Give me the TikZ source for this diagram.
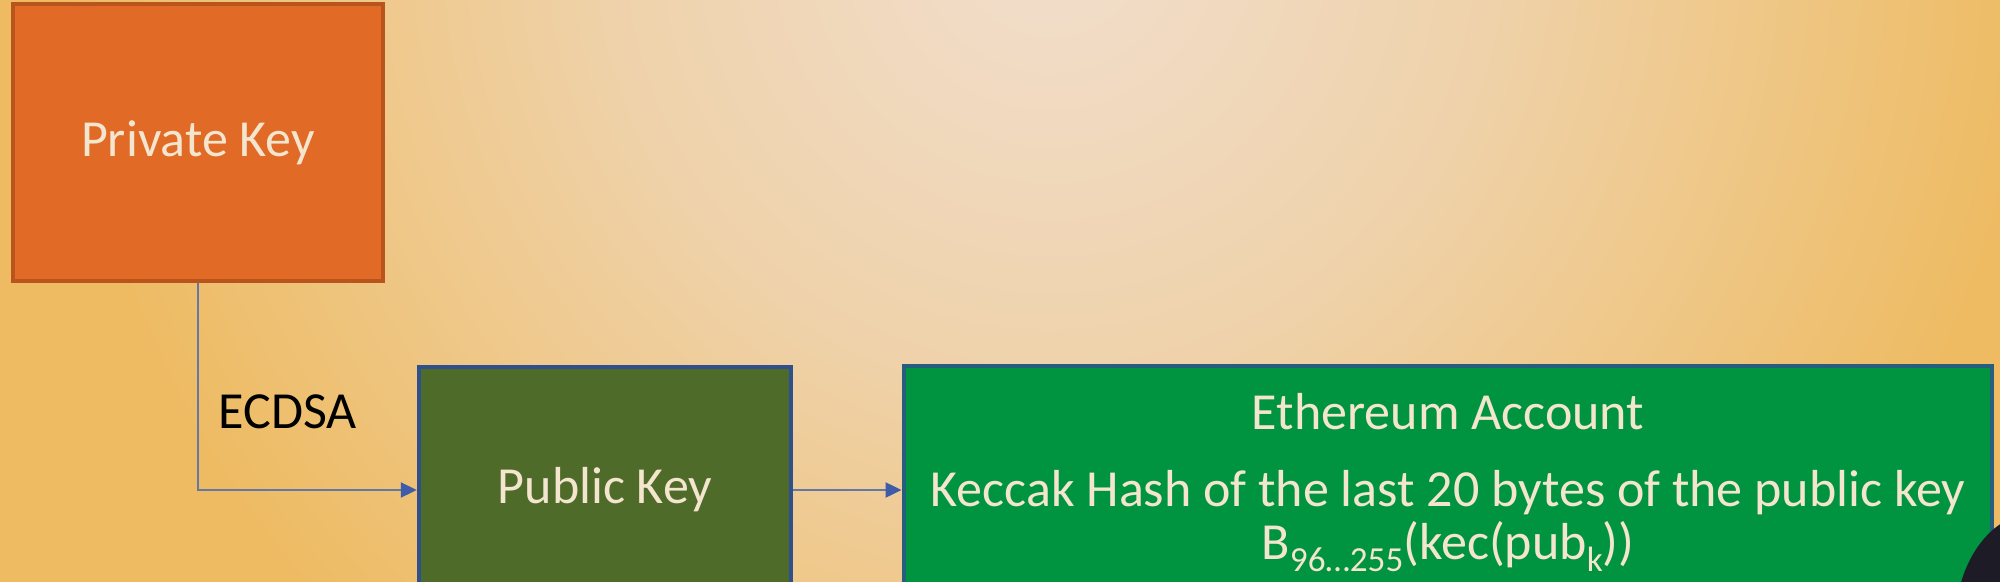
\documentclass[tikz,border=0pt]{standalone}
\usepackage{fontspec}
\setmainfont{Carlito}
\definecolor{bgin}{RGB}{241,220,199}
\definecolor{bgmid}{RGB}{239,210,170}
\definecolor{bgout}{RGB}{238,187,98}
\definecolor{keyorange}{RGB}{224,106,38}
\definecolor{keyorangedark}{RGB}{184,84,28}
\definecolor{pubgreen}{RGB}{79,107,41}
\definecolor{accgreen}{RGB}{0,148,64}
\definecolor{boxblue}{RGB}{47,80,140}
\definecolor{linkblue}{RGB}{100,120,165}
\definecolor{tipblue}{RGB}{62,92,168}
\definecolor{boxtext}{RGB}{243,229,206}
\definecolor{shadow}{RGB}{28,27,38}
\usetikzlibrary{shapes,arrows.meta,positioning,calc}
\pgfdeclareradialshading{bgshade}{\pgfpoint{0bp}{0bp}}{color(0bp)=(bgin); color(3bp)=(bgin); color(17bp)=(bgmid); color(38bp)=(bgout); color(50bp)=(bgout)}
\newcommand{\lowsub}[1]{\raisebox{-0.5ex}{\fontsize{10}{10}\selectfont #1}}

\begin{document}
\begin{tikzpicture}[x=0.01cm, y=-0.01cm,
    keybox/.style={draw, line width=1.2pt, inner sep=0pt, text=boxtext,
        font=\fontsize{14.8}{15}\selectfont},
    link/.style={linkblue, line width=0.6pt, -{Triangle[length=0.16cm, width=0.15cm, fill=tipblue, color=tipblue]}}]
    \useasboundingbox (0,0) rectangle (2000,582);

    % Background
    \begin{scope}
        \clip (0,0) rectangle (2000,582);
        \fill[bgout] (0,0) rectangle (2000,582);
        \pgftransformshift{\pgfpointxy{1050}{-60}}
        \pgftransformscale{7.4}
        \pgflowlevelsynccm
        \pgfuseshading{bgshade}
    \end{scope}

    % Boxes
    \node[keybox, fill=keyorange, draw=keyorangedark, minimum width=3.70cm, minimum height=2.77cm]
        (priv) at (198,142.5) {Private Key};
    \node[keybox, fill=pubgreen, draw=boxblue, minimum width=3.72cm, minimum height=2.46cm]
        (pub) at (605,490) {Public Key};
    \node[keybox, fill=accgreen, draw=boxblue!80!accgreen, minimum width=10.88cm, minimum height=2.33cm,
        align=center] (acc) at (1448,482.5)
        {Ethereum Account\\[7pt]
         Keccak Hash of the last 20 bytes of the public key\\
         B\lowsub{96\ldots255}(kec(pub\lowsub{k}))};

    % Connectors
    \draw[link] (priv.south) |- node[pos=0.31, right=0.08cm, text=black, font=\fontsize{14.8}{16}\selectfont] (ecdsa) {ECDSA} (pub.west);
    \draw[link] (pub.east) -- (acc.west |- pub.east);

    % dark shape at the corner
    \begin{scope}
        \clip (0,0) rectangle (2000,582);
        \fill[shadow] (2035,625) ellipse (80 and 112);
    \end{scope}
\end{tikzpicture}
\end{document}
